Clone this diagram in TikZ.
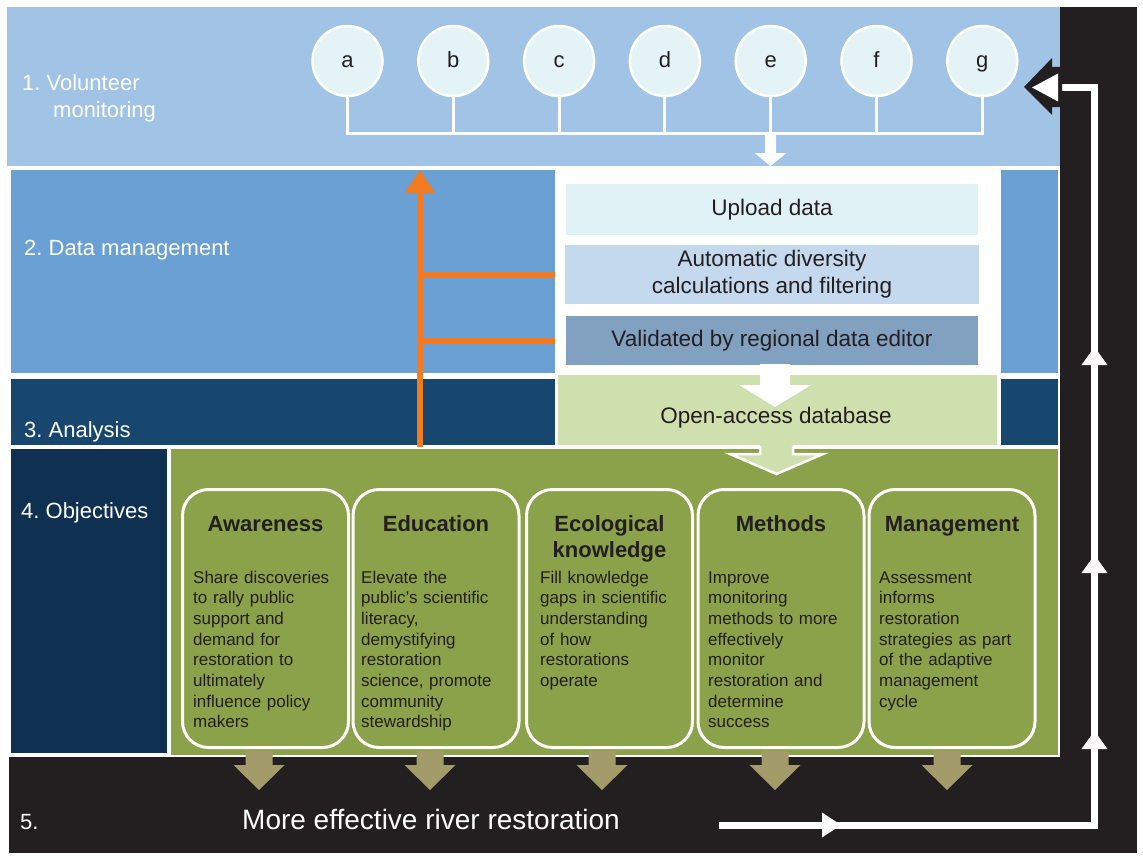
\documentclass[tikz,border=0pt]{standalone}
\usepackage{fontspec}
\setmainfont{Liberation Sans}
\usetikzlibrary{arrows.meta}
\frenchspacing
\definecolor{bandA}{HTML}{A0C3E6}
\definecolor{bandB}{HTML}{6BA0D4}
\definecolor{bandC}{HTML}{17466F}
\definecolor{navyD}{HTML}{0F3051}
\definecolor{greenE}{HTML}{8BA24B}
\definecolor{openF}{HTML}{CFDFAE}
\definecolor{uplG}{HTML}{E1F2F6}
\definecolor{autoH}{HTML}{C5D9EE}
\definecolor{valI}{HTML}{82A1C1}
\definecolor{blackJ}{HTML}{231F20}
\definecolor{tanK}{HTML}{A39B6A}
\definecolor{orangeL}{HTML}{F27B22}
\definecolor{circM}{HTML}{E3F3F6}
\begin{document}
\frenchspacing
\begin{tikzpicture}[x=1pt,y=-1pt,
  lbl/.style={text=white,font=\fontsize{22}{26}\selectfont,inner sep=0pt,anchor=base west},
  circ/.style={circle,draw=white,line width=2.5pt,fill=circM,minimum size=70pt,inner sep=0pt,text=blackJ,font=\fontsize{22}{26}\selectfont,text height=13pt,text depth=0pt},
  busline/.style={draw=white,line width=3pt},
  stepbox/.style={inner sep=0pt,text=blackJ,font=\fontsize{22.5}{27}\selectfont,align=center},
  objbox/.style={draw=white,line width=3pt,rounded corners=26pt,minimum width=166pt,minimum height=258pt,inner sep=0pt},
  objtitle/.style={text=blackJ,font=\bfseries\fontsize{22}{26}\selectfont,align=center,text width=166pt,inner sep=0pt,anchor=base},
  objbody/.style={text=blackJ,font=\fontsize{17}{20.7}\selectfont,align=left,text width=160pt,inner sep=0pt,anchor=base west},
  orangeline/.style={draw=orangeL,line width=6pt},
  feedback/.style={draw=white,line width=7pt}
]
\useasboundingbox (0,0) rectangle (1143,859);
\fill[white] (0,0) rectangle (1143,859);

% frame and bands
\fill[blackJ] (1060,7) rectangle (1137,853);
\fill[blackJ] (9,757) rectangle (1137,853);
\fill[bandA] (7,7) rectangle (1060,166);
\fill[bandB] (11,170) rectangle (555,373);
\fill[bandB] (1001,170) rectangle (1058,373);
\fill[bandC] (11,379) rectangle (555,445);
\fill[bandC] (1001,379) rectangle (1058,445);
\fill[navyD] (11,449) rectangle (167,753);
\fill[greenE] (171,449) rectangle (1058,755);

% section labels
\node[lbl] (l1) at (22,90) {1. Volunteer};
\node[lbl] (l1b) at (53,117) {monitoring};
\node[lbl] (l2) at (24,255) {2. Data management};
\node[lbl] (l3) at (24,437) {3. Analysis};
\node[lbl] (l4) at (21,518) {4. Objectives};
\node[lbl] (l5) at (20,829) {5.};
\node[lbl,font=\fontsize{28}{32}\selectfont] (res) at (242,829) {More effective river restoration};

% volunteer circles
\foreach \nm/\xx in {a/347.5,b/453.3,c/559.1,d/664.9,e/770.7,f/876.5,g/982.3}
  \node[circ] (\nm) at (\xx,61) {\nm};
\coordinate (busy) at (0,133);
\draw[busline] (a.south) -- (a.south |- busy) -- (g.south |- busy) -- (g.south);
\foreach \nm in {b,c,d,e,f}
  \draw[busline] (\nm.south) -- (\nm.south |- busy);
\fill[white] (765,134) -- (776,134) -- (776,153) -- (786.5,153) -- (770.5,166) -- (754.5,153) -- (765,153) -- cycle;

% data management steps
\node[stepbox,fill=uplG,minimum width=412pt,minimum height=51pt] (upload) at (772,209.5) {Upload data};
\node[stepbox,fill=autoH,minimum width=414pt,minimum height=59pt] (auto) at (772,274.5) {Automatic diversity\\calculations and filtering};
\node[stepbox,fill=valI,minimum width=412pt,minimum height=49pt] (valid) at (772,340.5) {Validated by regional data editor};
\node[fill=openF,minimum width=439pt,minimum height=70pt,inner sep=0pt] (open) at (777.5,410) {};
\fill[white] (760,364) -- (790,364) -- (790,385) -- (811,385) -- (775,407) -- (739,385) -- (760,385) -- cycle;
\node[stepbox,anchor=base] (opentxt) at (776,423) {Open-access database};

% arrow from database into objectives
\fill[openF] (760,444) -- (760,454) -- (730,454) -- (776.5,474) -- (823,454) -- (793,454) -- (793,444) -- cycle;
\draw[white,line width=2.5pt] (760,446) -- (760,454) -- (730,454) -- (776.5,474) -- (823,454) -- (793,454) -- (793,446);

% orange feedback arrow
\coordinate (obase) at (420,447);
\draw[orangeline,-{Triangle[length=23pt,width=29pt]}] (obase) -- (420,170);
\draw[orangeline] (auto.west -| obase) -- (auto.west -| 555,0);
\draw[orangeline] (valid.west -| obase) -- (valid.west -| 555,0);

% objectives
\node[objbox] (aw) at (265.5,618.5) {};
\node[objbox] (ed) at (436,618.5) {};
\node[objbox] (ec) at (609.5,618.5) {};
\node[objbox] (me) at (781,618.5) {};
\node[objbox] (ma) at (952,618.5) {};
\node[objtitle] (awT) at (aw.center |- 0,531) {Awareness};
\node[objtitle] (edT) at (ed.center |- 0,531) {Education};
\node[objtitle] (ecT) at (ec.center |- 0,531) {Ecological\\knowledge};
\node[objtitle] (meT) at (me.center |- 0,531) {Methods};
\node[objtitle] (maT) at (ma.center |- 0,531) {Management};
\node[objbody] (awB) at (193,583) {Share discoveries\\to rally public\\support and\\demand for\\restoration to\\ultimately\\influence policy\\makers};
\node[objbody] (edB) at (361,583) {Elevate the\\public’s scientific\\literacy,\\demystifying\\restoration\\science, promote\\community\\stewardship};
\node[objbody] (ecB) at (540,583) {Fill knowledge\\gaps in scientific\\understanding\\of how\\restorations\\operate};
\node[objbody] (meB) at (708,583) {Improve\\monitoring\\methods to more\\effectively\\monitor\\restoration and\\determine\\success};
\node[objbody] (maB) at (879,583) {Assessment\\informs\\restoration\\strategies as part\\of the adaptive\\management\\cycle};

% tan arrows
\foreach \cx in {259,430,602,775,947}
  \fill[tanK] ({\cx-13.5},751) -- ({\cx+13.5},751) -- ({\cx+13.5},765) -- ({\cx+25.5},765) -- (\cx,790) -- ({\cx-25.5},765) -- ({\cx-13.5},765) -- cycle;

% feedback loop
\draw[feedback] (719,825) -- (1094.5,825) -- (1094.5,87.5) -- (1058,87.5);
\fill[blackJ] (1024,87) -- (1052,58) -- (1052,67) -- (1062,67) -- (1062,107) -- (1052,107) -- (1052,115) -- cycle;
\fill[white] (1032,87.5) -- (1058,73.5) -- (1058,101.5) -- cycle;
\fill[white] (822,812.5) -- (841,825) -- (822,837.5) -- cycle;
\foreach \ty in {347,555,731}
  \fill[white] (1094.5,\ty) -- (1107.5,{\ty+18}) -- (1081.5,{\ty+18}) -- cycle;
\end{tikzpicture}
\end{document}
